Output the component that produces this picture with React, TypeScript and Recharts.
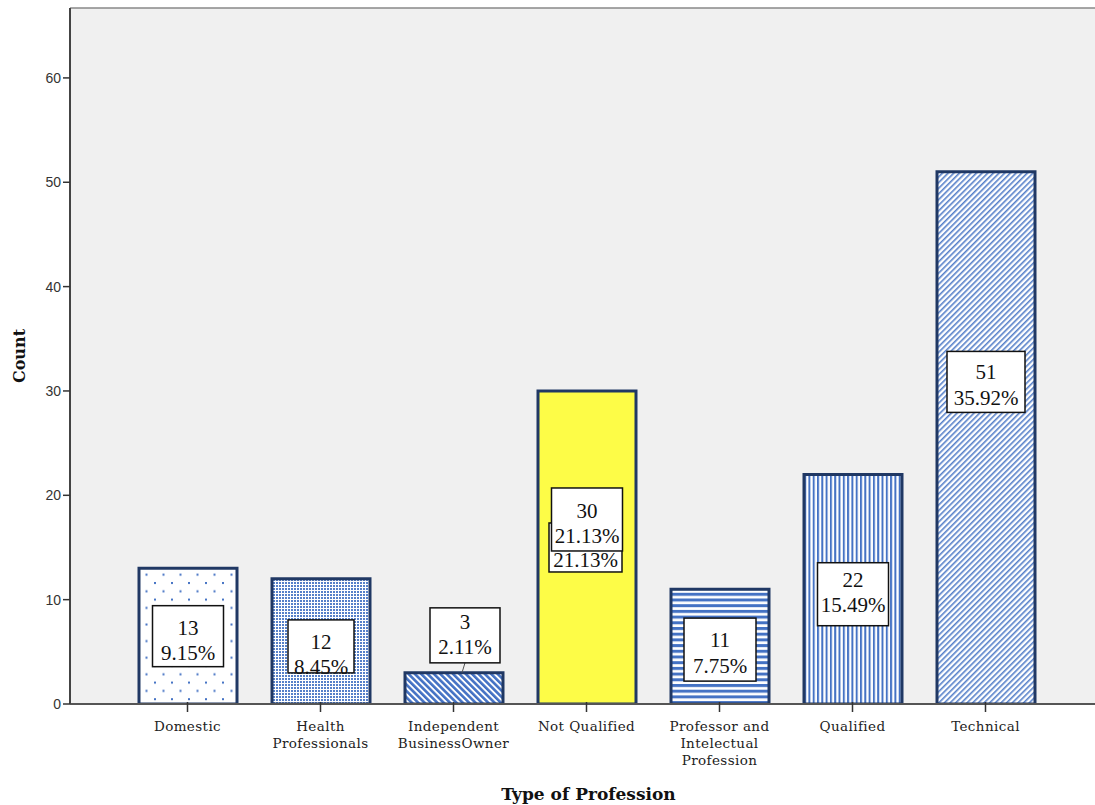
import React from 'react';
import { BarChart, Bar, XAxis, YAxis, CartesianGrid, Cell, LabelList, ReferenceLine } from 'recharts';

const categories = [
  'Domestic',
  'Health\nProfessionals',
  'Independent\nBusinessOwner',
  'Not Qualified',
  'Professor and\nIntelectual\nProfession',
  'Qualified',
  'Technical',
];
const counts = [13, 12, 3, 30, 11, 22, 51];
const percents = ['9.15%', '8.45%', '2.11%', '21.13%', '7.75%', '15.49%', '35.92%'];
const yTicks = [0, 10, 20, 30, 40, 50, 60];
const Y_MAX = 66.7;

const data = categories.map((c, i) => ({ name: c, count: counts[i], pct: percents[i] }));

// styling / layout config (not data)
const fills = [
  'url(#pDotsSparse)',
  'url(#pDotsDense)',
  'url(#pDiagBack)',
  '#fdfc47',
  'url(#pHoriz)',
  'url(#pVert)',
  'url(#pDiagFwd)',
];
// box center offset, text center offset (px from bar middle), box w, box h, dx
const labelLayout = [
  { boxDy: 0, textDy: 4, w: 71, h: 61, dx: 0 },
  { boxDy: 5, textDy: 13, w: 66, h: 53, dx: 0 },
  { boxDy: -53, textDy: -54, w: 70, h: 55, dx: 11 },
  { boxDy: -28, textDy: -24, w: 71, h: 63, dx: 0 },
  { boxDy: 3, textDy: 6, w: 72, h: 63, dx: 0 },
  { boxDy: 5, textDy: 3, w: 71, h: 63, dx: 0 },
  { boxDy: -56, textDy: -53, w: 78, h: 61, dx: 0 },
];

const BLUE = '#4472c4';
const SERIF = '"Liberation Serif", "Times New Roman", serif';

const LabelBox = ({ cx, cy, ty, w, h, count, pct }: any) => (
  <g>
    <rect x={cx - w / 2} y={cy - h / 2} width={w} height={h} fill="#fff" stroke="#111" strokeWidth={1.5} />
    <text x={cx} y={ty - 12.5} textAnchor="middle" dominantBaseline="central" fontFamily={SERIF} fontSize={21} fill="#111">
      {count}
    </text>
    <text x={cx} y={ty + 13} textAnchor="middle" dominantBaseline="central" fontFamily={SERIF} fontSize={21} fill="#111">
      {pct}
    </text>
  </g>
);

const renderLabel = (props: any) => {
  const { x, y, width, height, index } = props;
  const L = labelLayout[index];
  const mid = y + height / 2;
  const cx = x + width / 2 + L.dx;
  const d = data[index];
  const parts: any[] = [];
  if (index === 3) {
    parts.push(<LabelBox key="back" cx={cx - 1.5} cy={mid} ty={mid} w={73} h={49} count={d.count} pct={d.pct} />);
  }
  if (index === 2) {
    parts.push(
      <line key="lead" x1={cx} y1={mid + L.boxDy + L.h / 2} x2={cx - 3} y2={y} stroke="#555" strokeWidth={1} />
    );
  }
  parts.push(
    <LabelBox key="front" cx={cx} cy={mid + L.boxDy} ty={mid + L.textDy} w={L.w} h={L.h} count={d.count} pct={d.pct} />
  );
  return <g>{parts}</g>;
};

const XTick = (props: any) => {
  const { x, y, payload } = props;
  const lines = String(payload.value).split('\n');
  return (
    <g>
      <line x1={x} y1={y - 10} x2={x} y2={y} stroke="#333" strokeWidth={1.5} />
      <text
        x={x}
        y={y + 19}
        textAnchor="middle"
        fontFamily='"DejaVu Serif", serif'
        fontSize={13.5}
        letterSpacing={0.4}
        fill="#222"
      >
        {lines.map((l, i) => (
          <tspan key={i} x={x} dy={i === 0 ? 0 : 17}>
            {l}
          </tspan>
        ))}
      </text>
    </g>
  );
};

export default function App() {
  return (
    <div style={{ position: 'absolute', left: 0, top: 0, width: 1095, height: 805, background: '#fff' }}>
      <BarChart width={1095} height={805} data={data} margin={{ top: 8, right: 0, left: 0, bottom: 0 }}>
        <defs>
          <pattern id="pDotsSparse" patternUnits="userSpaceOnUse" width={17} height={16.6}>
            <rect width={17} height={16.6} fill="#fff" />
            <rect x={1} y={1} width={2} height={2} fill={BLUE} />
            <rect x={9.5} y={9.3} width={2} height={2} fill={BLUE} />
          </pattern>
          <pattern id="pDotsDense" patternUnits="userSpaceOnUse" width={3} height={3}>
            <rect width={3} height={3} fill="#fff" />
            <rect x={0} y={0} width={2} height={2} fill={BLUE} opacity={0.9} />
          </pattern>
          <pattern id="pDiagBack" patternUnits="userSpaceOnUse" width={4.5} height={10} patternTransform="rotate(-45)">
            <rect width={4.5} height={10} fill="#fff" />
            <rect x={0} y={0} width={2.6} height={10} fill={BLUE} />
          </pattern>
          <pattern id="pDiagFwd" patternUnits="userSpaceOnUse" width={4} height={10} patternTransform="rotate(45)">
            <rect width={4} height={10} fill="#fff" />
            <rect x={0} y={0} width={1.6} height={10} fill={BLUE} opacity={0.9} />
          </pattern>
          <pattern id="pHoriz" patternUnits="userSpaceOnUse" width={10} height={5.7}>
            <rect width={10} height={5.7} fill="#fff" />
            <rect x={0} y={0} width={10} height={3} fill={BLUE} />
          </pattern>
          <pattern id="pVert" patternUnits="userSpaceOnUse" width={4.3} height={10}>
            <rect width={4.3} height={10} fill="#fff" />
            <rect x={0} y={0} width={2} height={10} fill={BLUE} />
          </pattern>
        </defs>
        <CartesianGrid fill="#f0f0f0" horizontal={false} vertical={false} />
        <ReferenceLine y={Y_MAX} stroke="#888" strokeWidth={1.5} />
        <XAxis
          dataKey="name"
          interval={0}
          height={101}
          padding={{ left: 51, right: 43 }}
          tickLine={false}
          tick={<XTick />}
          axisLine={{ stroke: '#555', strokeWidth: 2 }}
          label={{
            value: 'Type of Profession',
            content: (p: any) => {
              const vb = p.viewBox;
              return (
                <text
                  x={vb.x + vb.width / 2 + 6}
                  y={vb.y + vb.height - 5}
                  textAnchor="middle"
                  fontFamily='"DejaVu Serif", serif'
                  fontWeight="bold"
                  fontSize={17}
                  fill="#111"
                >
                  Type of Profession
                </text>
              );
            },
          }}
        />
        <YAxis
          width={70}
          domain={[0, Y_MAX]}
          ticks={yTicks}
          interval={0}
          allowDataOverflow
          tickSize={7}
          tickLine={{ stroke: '#333', strokeWidth: 1.5 }}
          axisLine={{ stroke: '#444', strokeWidth: 2 }}
          tick={{ fill: '#333', fontSize: 14, fontFamily: '"Liberation Sans", Arial, sans-serif' }}
          label={{
            value: 'Count',
            content: (p: any) => {
              const vb = p.viewBox;
              const cx = vb.x + 19;
              const cy = vb.y + vb.height / 2;
              return (
                <text
                  x={cx}
                  y={cy}
                  transform={`rotate(-90, ${cx}, ${cy})`}
                  textAnchor="middle"
                  dominantBaseline="central"
                  fontFamily='"DejaVu Serif", serif'
                  fontWeight="bold"
                  fontSize={16}
                  fill="#111"
                >
                  Count
                </text>
              );
            },
          }}
        />
        <Bar dataKey="count" barSize={98} stroke="#203864" strokeWidth={3} isAnimationActive={false}>
          {data.map((d, i) => (
            <Cell key={d.name} fill={fills[i]} />
          ))}
          <LabelList dataKey="count" content={renderLabel} />
        </Bar>
      </BarChart>
    </div>
  );
}
